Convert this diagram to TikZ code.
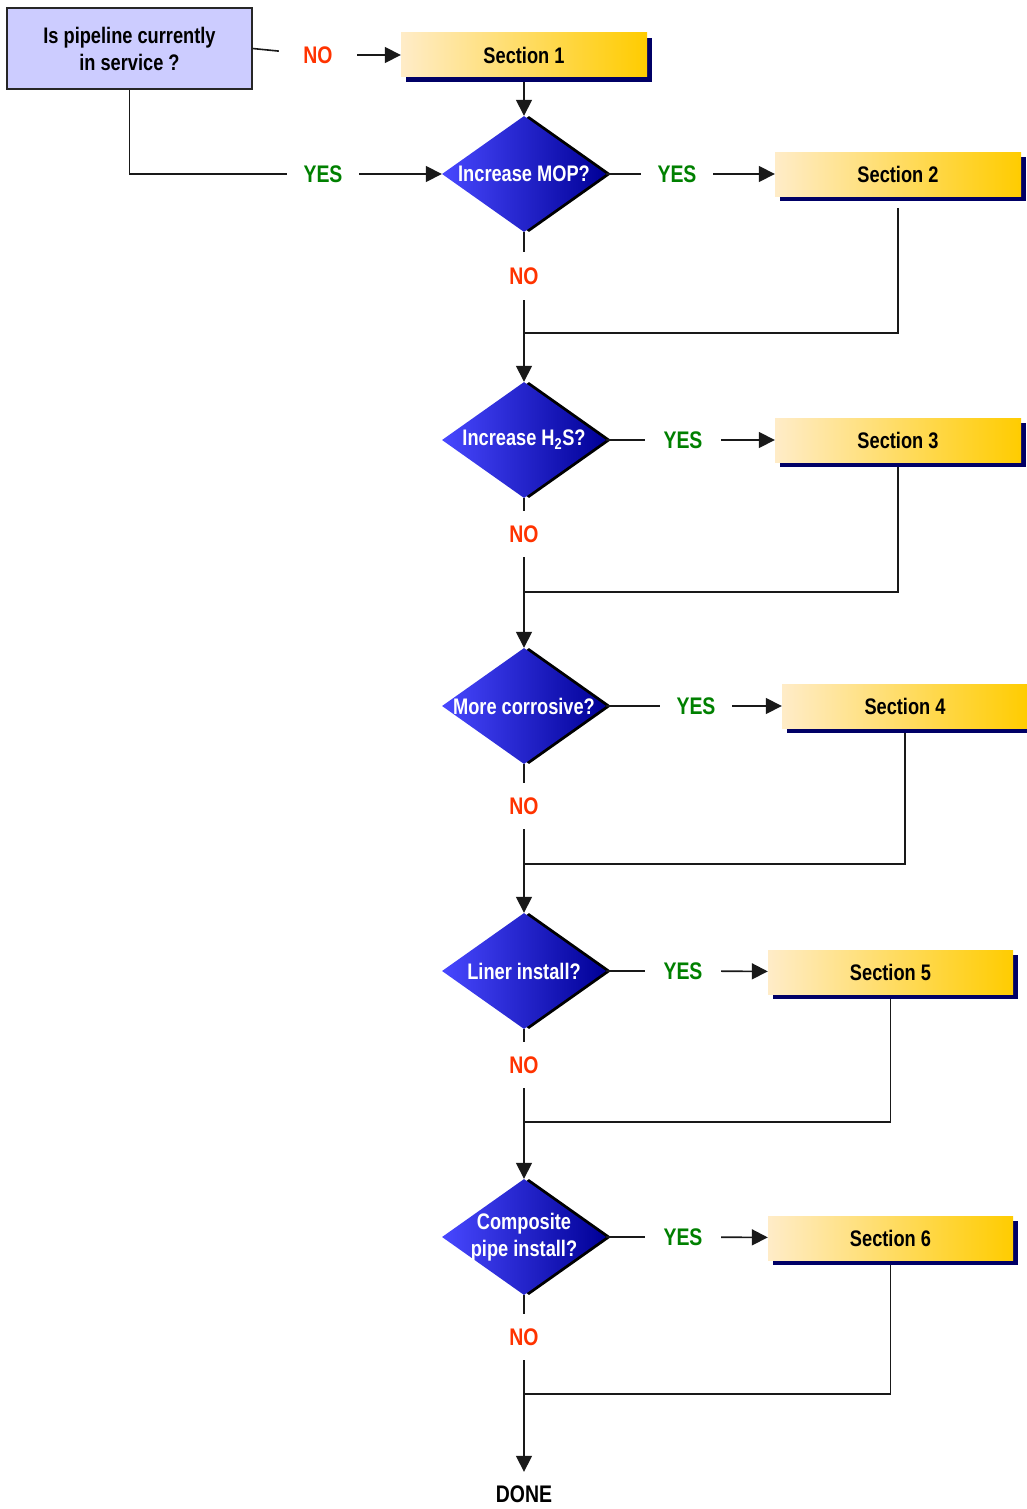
\documentclass[tikz,border=0pt]{standalone}
\usepackage{fontspec}
\setmainfont{Liberation Sans}[FakeStretch=0.81]
\usetikzlibrary{shapes.geometric,arrows.meta,shadows}
\definecolor{noRed}{RGB}{255,51,0}
\definecolor{yesGreen}{RGB}{0,128,0}
\definecolor{navyShadow}{RGB}{0,0,102}
\definecolor{secLight}{RGB}{255,236,200}
\definecolor{secGold}{RGB}{255,204,0}
\definecolor{diaLight}{RGB}{72,72,255}
\definecolor{diaDark}{RGB}{0,0,150}
\definecolor{qFill}{RGB}{204,204,255}
\begin{document}
\begin{tikzpicture}[x=1pt,y=-1pt,
  font=\fontsize{22.5}{27}\selectfont\bfseries,
  lblfont/.style={font=\fontsize{24}{28}\selectfont\bfseries},
  conn/.style={line width=1.6pt, draw=black!90},
  arr/.style={conn, -{Triangle[length=16pt,width=16pt]}},
  secbox/.style={rectangle, minimum width=246pt, minimum height=44pt, inner sep=0pt,
    left color=secLight, right color=secGold,
    drop shadow={shadow xshift=5pt, shadow yshift=-5pt, fill=navyShadow, opacity=1}},
  decision/.style={diamond, minimum width=164pt, minimum height=116pt, inner sep=0pt,
    left color=diaLight, right color=diaDark,
    drop shadow={shadow xshift=5pt, shadow yshift=0pt, fill=black, opacity=1}},
  dtext/.style={text=white, align=center, inner sep=0pt},
  yeslbl/.style={lblfont, text=yesGreen, minimum width=72pt, minimum height=30pt, inner sep=0pt},
  nolbl/.style={lblfont, text=noRed, minimum width=30pt, minimum height=48pt, inner sep=0pt},
  question/.style={rectangle, draw=black!85, line width=1.2pt, fill=qFill, align=center,
    minimum width=245pt, minimum height=81pt, inner sep=0pt}
]
\useasboundingbox (0,0) rectangle (1026,1509);

% start question
\node[question] (q) at (129.5,48.5) {Is pipeline currently\\in service ?};
\node[lblfont, text=noRed, minimum width=78pt, minimum height=30pt, inner sep=0pt] (no0) at (318,55) {NO};
\node[secbox] (s1) at (524,55) {Section 1};
\node[yeslbl] (yes0) at (323,174) {YES};

% decisions
\node[decision, label={[dtext]center:Increase MOP?}] (d1) at (524,174) {};
\node[decision, label={[dtext]center:Increase H\textsubscript{2}S?}] (d2) at (524,440) {};
\node[decision, label={[dtext]center:More corrosive?}] (d3) at (524,706) {};
\node[decision, label={[dtext]center:Liner install?}] (d4) at (524,971) {};
\node[decision, label={[dtext]center:Composite\\pipe install?}] (d5) at (524,1237) {};

% yes labels
\node[yeslbl] (yes1) at (677,174) {YES};
\node[yeslbl, minimum width=76pt] (yes2) at (683,440) {YES};
\node[yeslbl] (yes3) at (696,706) {YES};
\node[yeslbl, minimum width=76pt] (yes4) at (683,971) {YES};
\node[yeslbl, minimum width=76pt] (yes5) at (683,1237) {YES};

% sections
\node[secbox] (s2) at (898,174) {Section 2};
\node[secbox] (s3) at (898,440) {Section 3};
\node[secbox] (s4) at (905,706) {Section 4};
\node[secbox, minimum width=245pt] (s5) at (890.5,972) {Section 5};
\node[secbox, minimum width=245pt] (s6) at (890.5,1238) {Section 6};

% no labels
\node[nolbl] (no1) at (524,276) {NO};
\node[nolbl, minimum height=46pt] (no2) at (524,534) {NO};
\node[nolbl, minimum height=46pt] (no3) at (524,806) {NO};
\node[nolbl, minimum height=46pt] (no4) at (524,1065) {NO};
\node[nolbl, minimum height=46pt] (no5) at (524,1337) {NO};

\node[lblfont, minimum height=44pt, inner sep=0pt] (done) at (524,1494) {DONE};

% junctions
\coordinate (j1) at (524,333);
\coordinate (j2) at (524,592);
\coordinate (j3) at (524,864);
\coordinate (j4) at (524,1122);
\coordinate (j5) at (524,1394);

% connectors
\draw[conn] (q.east) -- (no0);
\draw[arr] (no0) -- (s1);
\draw[arr, shorten <=5pt] (s1.south) -- (d1.north);
\draw[conn] (q.south) |- (yes0);
\draw[arr] (yes0) -- (d1);

\draw[conn] (d1) -- (yes1);  \draw[arr] (yes1) -- (s2);
\draw[conn] (d2) -- (yes2);  \draw[arr] (yes2) -- (s3);
\draw[conn] (d3) -- (yes3);  \draw[arr] (yes3) -- (s4);
\draw[conn] (d4) -- (yes4);  \draw[arr] (yes4) -- (s5);
\draw[conn] (d5) -- (yes5);  \draw[arr] (yes5) -- (s6);

\draw[conn] (d1) -- (no1);  \draw[arr] (no1) -- (d2);
\draw[conn] (d2) -- (no2);  \draw[arr] (no2) -- (d3);
\draw[conn] (d3) -- (no3);  \draw[arr] (no3) -- (d4);
\draw[conn] (d4) -- (no4);  \draw[arr] (no4) -- (d5);
\draw[conn] (d5) -- (no5);  \draw[arr] (no5) -- (done);

\draw[conn, shorten <=12pt] (s2.south) |- (j1);
\draw[conn, shorten <=5pt] (s3.south) |- (j2);
\draw[conn, shorten <=5pt] (s4.south) |- (j3);
\draw[conn, shorten <=5pt] (s5.south) |- (j4);
\draw[conn, shorten <=5pt] (s6.south) |- (j5);
\end{tikzpicture}
\end{document}
